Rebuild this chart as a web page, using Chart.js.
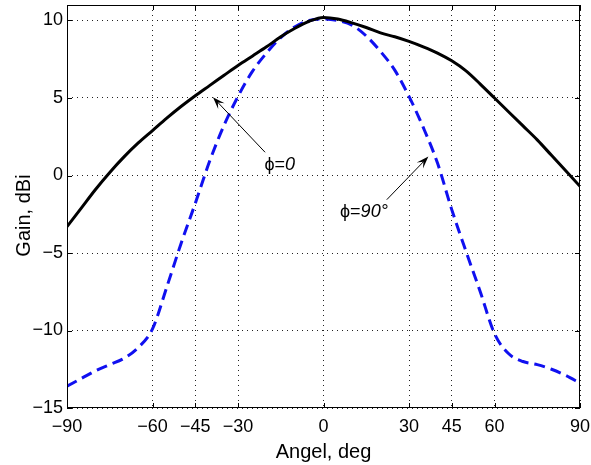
<!DOCTYPE html>
<html>
<head>
<meta charset="utf-8">
<script src="https://cdn.jsdelivr.net/npm/chart.js@4/dist/chart.umd.min.js"></script>
<style>
  html, body { margin: 0; padding: 0; background: #fff; }
  #wrap { width: 591px; height: 465px; }
</style>
</head>
<body>
<div id="wrap"><canvas id="gainChart" width="591" height="465"></canvas></div>
<script>
// ---------- data ----------
const angles = [-90, -85, -80, -75, -70, -65, -60, -55, -50, -45, -40, -35, -30, -25, -20, -15, -10, -5,
  0, 5, 10, 15, 20, 25, 30, 35, 40, 45, 50, 55, 60, 65, 70, 75, 80, 85, 90];
const gainPhi0 = [-3.3, -2.1, -0.9, 0.2, 1.2, 2.1, 2.9, 3.7, 4.45, 5.15, 5.8, 6.45, 7.1, 7.7, 8.3, 8.95, 9.5, 9.95,
  10.2, 10.1, 9.85, 9.55, 9.2, 8.95, 8.65, 8.3, 7.9, 7.4, 6.75, 5.9, 5.0, 4.1, 3.2, 2.3, 1.3, 0.3, -0.7];
const gainPhi90 = [-13.6, -13.1, -12.6, -12.2, -11.8, -11.1, -9.9, -7.2, -4.4, -1.8, 0.9, 3.2, 5.1, 6.7, 7.9, 8.9, 9.6, 10.0,
  10.1, 10.0, 9.7, 9.0, 8.0, 6.8, 5.1, 3.1, 0.8, -2.2, -4.9, -7.5, -10.2, -11.5, -12.0, -12.2, -12.5, -12.9, -13.4];
const xTicks = [-90, -60, -45, -30, 0, 30, 45, 60, 90];
const yTicks = [-15, -10, -5, 0, 5, 10];

const FONT = '"Liberation Sans", Arial, Helvetica, sans-serif';
const minus = (v) => String(v).replace('-', '\u2212');

// ---------- frame, inward ticks, y title and arrow labels ----------
const framePlugin = {
  id: 'frame',
  afterDraw(chart) {
    const { ctx, chartArea: a, scales: { x, y } } = chart;
    ctx.save();
    ctx.strokeStyle = '#000';
    ctx.lineWidth = 1;
    ctx.strokeRect(a.left + 0.5, a.top + 0.5, a.width - 1, a.height - 1);

    ctx.beginPath();
    xTicks.forEach((v) => {
      const px = Math.round(x.getPixelForValue(v)) + 0.5;
      ctx.moveTo(px, a.bottom); ctx.lineTo(px, a.bottom - 5);
      ctx.moveTo(px, a.top); ctx.lineTo(px, a.top + 5);
    });
    yTicks.forEach((v) => {
      const py = Math.round(y.getPixelForValue(v)) + 0.5;
      ctx.moveTo(a.left, py); ctx.lineTo(a.left + 5, py);
      ctx.moveTo(a.right, py); ctx.lineTo(a.right - 5, py);
    });
    ctx.stroke();

    // y axis title (sits a little below the middle in the original)
    ctx.save();
    ctx.translate(24, (a.top + a.bottom) / 2 + 9);
    ctx.rotate(-Math.PI / 2);
    ctx.fillStyle = '#000';
    ctx.textAlign = 'center';
    ctx.textBaseline = 'middle';
    ctx.font = '20px ' + FONT;
    ctx.fillText('Gain, dBi', 0, 0);
    ctx.restore();

    arrow(ctx, x.getPixelForValue(-20.5), y.getPixelForValue(1.5), x.getPixelForValue(-38.8), y.getPixelForValue(5.05));
    arrow(ctx, x.getPixelForValue(22.2), y.getPixelForValue(-1.56), x.getPixelForValue(36.8), y.getPixelForValue(1.22));

    label(ctx, x.getPixelForValue(-20.7), y.getPixelForValue(0.7), '0');
    label(ctx, x.getPixelForValue(5.8), y.getPixelForValue(-2.35), '90\u00B0');
    ctx.restore();
  },
};

function arrow(ctx, x0, y0, x1, y1) {
  const ang = Math.atan2(y1 - y0, x1 - x0);
  const len = 13, half = 0.34;
  ctx.beginPath();
  ctx.lineWidth = 1;
  ctx.moveTo(x0, y0);
  ctx.lineTo(x1 - Math.cos(ang) * 7, y1 - Math.sin(ang) * 7);
  ctx.stroke();
  ctx.beginPath();
  ctx.moveTo(x1, y1);
  ctx.lineTo(x1 - len * Math.cos(ang - half), y1 - len * Math.sin(ang - half));
  ctx.lineTo(x1 - len * 0.55 * Math.cos(ang), y1 - len * 0.55 * Math.sin(ang));
  ctx.lineTo(x1 - len * Math.cos(ang + half), y1 - len * Math.sin(ang + half));
  ctx.closePath();
  ctx.fillStyle = '#000';
  ctx.fill();
}

function label(ctx, px, py, value) {
  ctx.fillStyle = '#000';
  ctx.textBaseline = 'middle';
  ctx.textAlign = 'left';
  ctx.font = '18px ' + FONT;
  const head = '\u03D5=';
  ctx.fillText(head, px, py);
  const w = ctx.measureText(head).width;
  ctx.font = 'italic 18px ' + FONT;
  ctx.fillText(value, px + w, py);
}

// ---------- chart ----------
new Chart(document.getElementById('gainChart'), {
  type: 'line',
  data: {
    datasets: [
      {
        label: '\u03D5=0',
        data: angles.map((a, i) => ({ x: a, y: gainPhi0[i] })),
        borderColor: '#000',
        borderWidth: 3,
        pointRadius: 0,
        cubicInterpolationMode: 'monotone',
      },
      {
        label: '\u03D5=90\u00B0',
        data: angles.map((a, i) => ({ x: a, y: gainPhi90[i] })),
        borderColor: '#1010f0',
        borderWidth: 3,
        borderDash: [11, 6],
        pointRadius: 0,
        cubicInterpolationMode: 'monotone',
      },
    ],
  },
  options: {
    responsive: false,
    animation: false,
    devicePixelRatio: 1,
    layout: { padding: { top: 5, right: 11, left: 0, bottom: 0 } },
    plugins: { legend: { display: false }, tooltip: { enabled: false } },
    scales: {
      x: {
        type: 'linear',
        min: -90,
        max: 90,
        afterBuildTicks: (s) => { s.ticks = xTicks.map((v) => ({ value: v })); },
        afterFit: (s) => { s.height = 57; s.paddingLeft = 0; s.paddingRight = 0; },
        ticks: { color: '#000', font: { family: FONT, size: 18 }, padding: 8, maxRotation: 0, autoSkip: false, callback: minus },
        grid: { color: '#222', lineWidth: 1, drawTicks: false },
        border: { display: false, dash: [1, 4] },
        title: { display: true, text: 'Angel, deg', color: '#000', font: { family: FONT, size: 20 }, padding: { top: 0, bottom: 1 } },
      },
      y: {
        min: -15,
        max: 11,
        afterBuildTicks: (s) => { s.ticks = yTicks.map((v) => ({ value: v })); },
        afterFit: (s) => { s.width = 67; s.paddingTop = 0; s.paddingBottom = 0; },
        ticks: { color: '#000', font: { family: FONT, size: 18 }, padding: 4, callback: minus },
        grid: { color: '#222', lineWidth: 1, drawTicks: false },
        border: { display: false, dash: [1, 4] },
      },
    },
  },
  plugins: [framePlugin],
});
</script>
</body>
</html>
